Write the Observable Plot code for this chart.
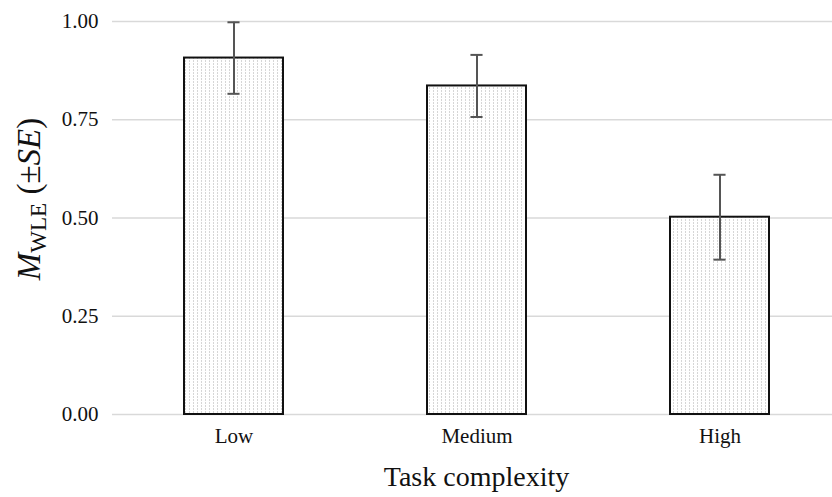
<!DOCTYPE html>
<html>
<head>
<meta charset="utf-8">
<script src="https://cdn.jsdelivr.net/npm/d3@7"></script>
<script src="https://cdn.jsdelivr.net/npm/@observablehq/plot@0.6"></script>
<style>
  html, body { margin: 0; padding: 0; background: #fff; }
</style>
</head>
<body>
<div id="chart"></div>
<script>
const categories = ["Low", "Medium", "High"];
const means = [0.907, 0.836, 0.502];
const ses = [0.091, 0.079, 0.108];
const yTicks = [0, 0.25, 0.5, 0.75, 1.0];

const data = categories.map((c, i) => ({cat: c, m: means[i], lo: means[i] - ses[i], hi: means[i] + ses[i]}));

const W = 832, H = 497;
const mL = 112, mT = 21, mB = 83;
const pad = 0.593;
const step = 243;
const band = step * (1 - pad);
const capW = 12;
const inset = (band - capW) / 2;
const font = "'Liberation Serif', 'Times New Roman', serif";

const plot = Plot.plot({
  width: W,
  height: H,
  marginLeft: mL,
  marginRight: 0,
  marginTop: mT,
  marginBottom: mB,
  style: {fontFamily: font, background: "#fff"},
  x: {domain: categories, range: [mL + step * pad / 2, mL + step * 3 - step * pad / 2], paddingInner: pad, paddingOuter: 0, align: 0.5},
  y: {domain: [0, 1], ticks: yTicks},
  marks: [
    Plot.ruleY(yTicks, {stroke: "#d9d9d9", strokeWidth: 1.6}),
    Plot.barY(data, {x: "cat", y: "m", fill: "url(#dots)", stroke: "#111", strokeWidth: 2}),
    Plot.ruleX(data, {x: "cat", y1: "lo", y2: "hi", stroke: "#555", strokeWidth: 2}),
    Plot.tickY(data, {x: "cat", y: "lo", stroke: "#555", strokeWidth: 2, insetLeft: inset, insetRight: inset}),
    Plot.tickY(data, {x: "cat", y: "hi", stroke: "#555", strokeWidth: 2, insetLeft: inset, insetRight: inset}),
    Plot.axisY({ticks: yTicks, tickFormat: d3.format(".2f"), tickSize: 0, tickPadding: 14, fontSize: 21, label: null, fill: "#111"}),
    Plot.axisX({tickSize: 0, tickPadding: 14, fontSize: 21, label: null, fill: "#111"})
  ]
});

const svg = d3.select(plot);
const defs = svg.insert("defs", ":first-child");
const pat = defs.append("pattern")
  .attr("id", "dots").attr("patternUnits", "userSpaceOnUse")
  .attr("width", 4).attr("height", 3);
pat.append("rect").attr("width", 4).attr("height", 3).attr("fill", "#ffffff");
pat.append("rect").attr("x", 1).attr("y", 0).attr("width", 1).attr("height", 2).attr("fill", "#d6d6d6");

// x axis title
svg.append("text")
  .attr("x", mL + step * 1.5)
  .attr("y", 486)
  .attr("text-anchor", "middle")
  .attr("font-family", font)
  .attr("font-size", 28)
  .attr("fill", "#111")
  .text("Task complexity");

// y axis title with subscript
const yt = svg.append("text")
  .attr("transform", "translate(40,199) rotate(-90)")
  .attr("text-anchor", "middle")
  .attr("font-family", font)
  .attr("font-size", 33)
  .attr("fill", "#111");
yt.append("tspan").attr("font-style", "italic").text("M");
yt.append("tspan").attr("font-size", 23).attr("dy", 6).text("WLE");
yt.append("tspan").attr("dy", -6).text(" (±");
yt.append("tspan").attr("font-style", "italic").text("SE");
yt.append("tspan").text(")");

document.getElementById("chart").appendChild(plot);
</script>
</body>
</html>
